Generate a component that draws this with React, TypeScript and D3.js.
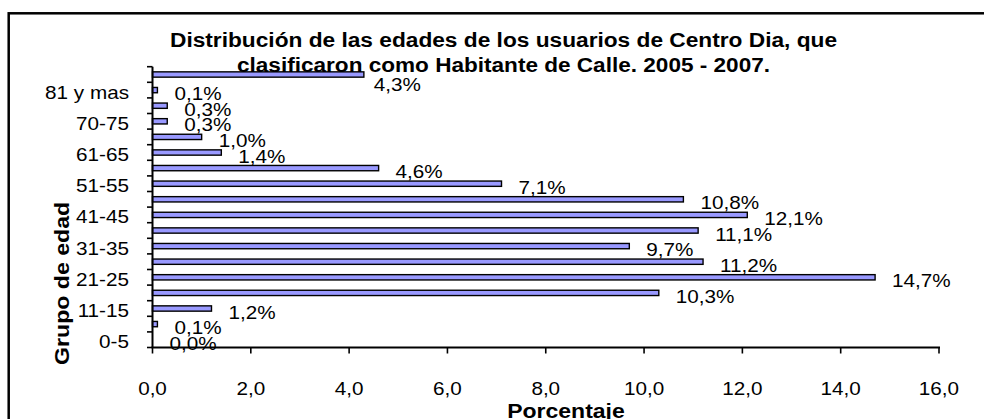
import React from "react";
import * as d3 from "d3";

// ---- data ----
const categories: string[] = [
  "0-5", "6-10", "11-15", "16-20", "21-25", "26-30", "31-35", "36-40", "41-45",
  "46-50", "51-55", "56-60", "61-65", "66-69", "70-75", "76-80", "81 y mas", "Sin dato",
];
const values: number[] = [
  0.0, 0.1, 1.2, 10.3, 14.7, 11.2, 9.7, 11.1, 12.1, 10.8, 7.1, 4.6, 1.4, 1.0, 0.3, 0.3, 0.1, 4.3,
];
const xTicks: number[] = [0, 2, 4, 6, 8, 10, 12, 14, 16];
const titleLines: string[] = [
  "Distribución de las edades de los usuarios de Centro Dia, que",
  "clasificaron como Habitante de Calle. 2005 - 2007.",
];
const xTitle = "Porcentaje";
const yTitle = "Grupo de edad";

// ---- layout ----
const W = 984;
const H = 419;
const FONT = "'Liberation Sans', Arial, sans-serif";
const SX = 1.15;
const PLOT = { left: 152.5, right: 939, top: 66.7, bottom: 347.5 };
const BAR_H = 5.3;
const FILL = "#9999FF";

const fmt = (v: number) => v.toFixed(1).replace(".", ",");

function T(props: {
  x: number; y: number; size?: number; bold?: boolean; anchor?: string; children: React.ReactNode;
}) {
  const { x, y, size = 18, bold = false, anchor = "start", children } = props;
  return (
    <text
      transform={`translate(${x},${y}) scale(${SX},1)`}
      fontFamily={FONT}
      fontSize={size}
      fontWeight={bold ? "bold" : "normal"}
      textAnchor={anchor}
      fill="#000"
    >
      {children}
    </text>
  );
}

export default function App() {
  const x = d3.scaleLinear().domain([0, 16]).range([PLOT.left, PLOT.right]);
  const y = d3
    .scaleBand<string>()
    .domain([...categories].reverse())
    .range([PLOT.top, PLOT.bottom])
    .paddingInner(0)
    .paddingOuter(0);
  const bw = y.bandwidth();
  const lastIdx = categories.length - 1;

  return (
    <svg
      width={W}
      height={H}
      viewBox={`0 0 ${W} ${H}`}
      style={{ position: "absolute", left: 0, top: 0, background: "#fff" }}
    >
      <rect x={0} y={0} width={W} height={H} fill="#fff" />
      {/* chart border */}
      <rect x={8.7} y={13.3} width={1100} height={600} fill="none" stroke="#000" strokeWidth={2.5} />

      {/* bars */}
      {categories.map((c, i) => {
        const cy = (y(c) as number) + bw / 2;
        return (
          <rect
            key={c}
            x={x(0)}
            y={cy - BAR_H / 2}
            width={Math.max(0, x(values[i]) - x(0))}
            height={BAR_H}
            fill={FILL}
            stroke="#000"
            strokeWidth={1.4}
          />
        );
      })}

      {/* y axis */}
      <line x1={PLOT.left} x2={PLOT.left} y1={PLOT.top} y2={PLOT.bottom} stroke="#000" strokeWidth={2} />
      {d3.range(categories.length + 1).map((k) => {
        const yy = PLOT.top + k * bw;
        return <line key={k} x1={PLOT.left - 5.5} x2={PLOT.left} y1={yy} y2={yy} stroke="#000" strokeWidth={1.6} />;
      })}
      {categories.map((c, i) =>
        i % 2 === 0 ? (
          <T key={c} x={129} y={(y(c) as number) + bw / 2 + 8.5} anchor="end">
            {c}
          </T>
        ) : null
      )}

      {/* x axis */}
      <line x1={PLOT.left - 1} x2={PLOT.right + 1} y1={PLOT.bottom} y2={PLOT.bottom} stroke="#000" strokeWidth={2} />
      {xTicks.map((t) => (
        <g key={t}>
          <line x1={x(t)} x2={x(t)} y1={PLOT.bottom} y2={PLOT.bottom + 6} stroke="#000" strokeWidth={1.6} />
          <T x={x(t)} y={395} anchor="middle">
            {fmt(t)}
          </T>
        </g>
      ))}

      {/* data labels */}
      {categories.map((c, i) => {
        const cy = (y(c) as number) + bw / 2;
        const top = i === lastIdx;
        return (
          <T key={c} x={x(values[i]) + (top ? 10 : 17)} y={cy + (top ? 16 : 10)}>
            {fmt(values[i]) + "%"}
          </T>
        );
      })}

      {/* axis titles */}
      <T x={566} y={417.5} size={20} bold anchor="middle">
        {xTitle}
      </T>
      <text
        transform={`translate(68.5,283.4) rotate(-90)`}
        fontFamily={FONT}
        fontSize={20.5}
        fontWeight="bold"
        textAnchor="middle"
        textLength={163}
        lengthAdjust="spacingAndGlyphs"
      >
        {yTitle}
      </text>

      {/* title */}
      <text
        x={503.5}
        y={46.5}
        fontFamily={FONT}
        fontSize={20}
        fontWeight="bold"
        textAnchor="middle"
        textLength={667}
        lengthAdjust="spacingAndGlyphs"
      >
        {titleLines[0]}
      </text>
      <text
        x={503.5}
        y={71.5}
        fontFamily={FONT}
        fontSize={20}
        fontWeight="bold"
        textAnchor="middle"
        textLength={533}
        lengthAdjust="spacingAndGlyphs"
      >
        {titleLines[1]}
      </text>
    </svg>
  );
}
